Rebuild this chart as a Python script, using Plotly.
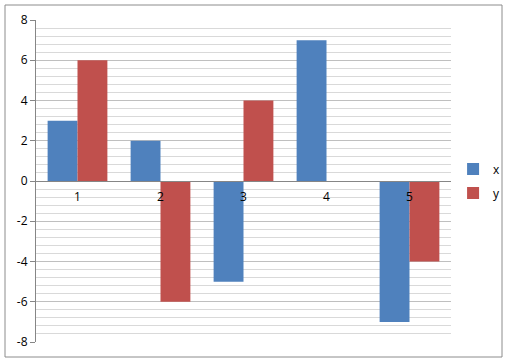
import plotly.graph_objects as go

categories = ["1", "2", "3", "4", "5"]
x_values = [3, 2, -5, 7, -7]
y_values = [6, -6, 4, 0, -4]
y_ticks = [-8, -6, -4, -2, 0, 2, 4, 6, 8]

W, H = 514, 361
L, R, T, B = 36, 63, 20, 19
pw = W - L - R
ph = H - T - B

fig = go.Figure()
fig.add_trace(go.Bar(name="x", x=categories, y=x_values, legendgroup="gx",
                     marker=dict(color="#4F81BD", line=dict(width=0))))
fig.add_trace(go.Bar(name="y", x=categories, y=y_values, legendgroup="gy",
                     marker=dict(color="#C0504D", line=dict(width=0))))

font = dict(family="Open Sans, Liberation Sans, sans-serif", size=12, color="#000000")

fig.update_layout(
    width=W, height=H,
    margin=dict(l=L, r=R, t=T, b=B, autoexpand=False),
    paper_bgcolor="white", plot_bgcolor="white",
    barmode="group", bargap=0.28, bargroupgap=0,
    font=font,
    showlegend=True,
    legend=dict(x=1.005, y=0.5, xanchor="left", yanchor="middle",
                font=dict(size=12), itemwidth=30, tracegroupgap=5,
                bgcolor="rgba(0,0,0,0)"),
    xaxis=dict(type="category", anchor="free", position=0.5,
               showline=True, linecolor="#868686", linewidth=1,
               ticks="", showgrid=False, zeroline=False,
               tickfont=font, ticklabelstandoff=5),
    yaxis=dict(range=[-8, 8], tickvals=y_ticks, ticktext=[str(v) for v in y_ticks],
               showline=True, linecolor="#868686", linewidth=1,
               ticks="outside", ticklen=5, tickcolor="#868686",
               showgrid=True, gridcolor="#BFBFBF", gridwidth=1,
               zeroline=False,
               minor=dict(dtick=0.4, tick0=0, showgrid=True, gridcolor="#D9D9D9", gridwidth=1),
               tickfont=font),
    shapes=[dict(type="rect", xref="paper", yref="paper",
                 x0=(5 - L) / pw, x1=(502 - L) / pw,
                 y0=1 - (357 - T) / ph, y1=1 - (5 - T) / ph,
                 line=dict(color="#8C8C8C", width=1), layer="below")],
)

fig.write_html("out.html")
